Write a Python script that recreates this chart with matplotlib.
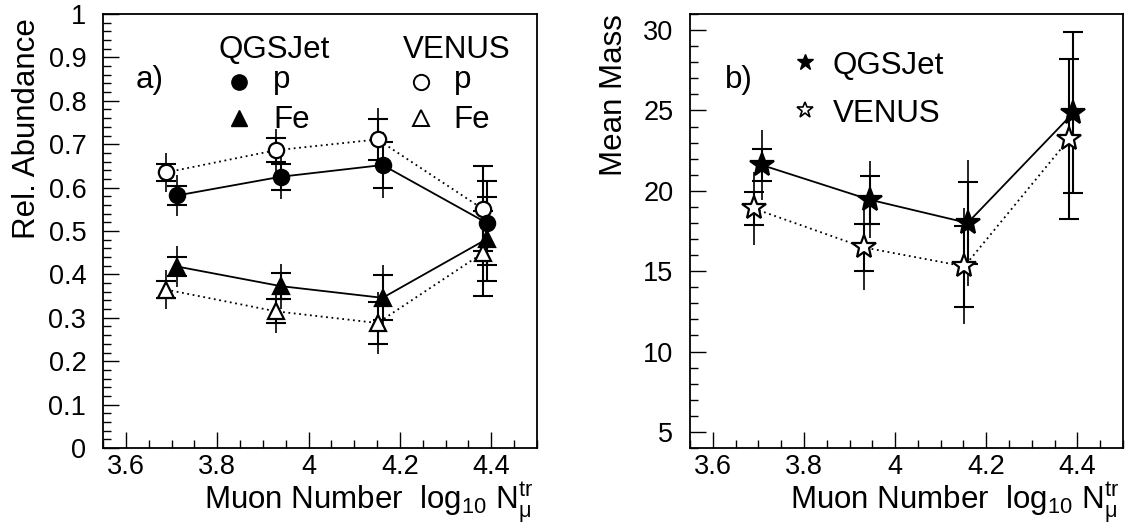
import matplotlib
matplotlib.use("Agg")
import matplotlib.pyplot as plt
from matplotlib.ticker import MultipleLocator, FormatStrFormatter

plt.rcParams["font.family"] = ["Liberation Sans", "DejaVu Sans"]
plt.rcParams["mathtext.fontset"] = "custom"
plt.rcParams["mathtext.rm"] = "Liberation Sans"
plt.rcParams["mathtext.it"] = "Liberation Sans:italic"
plt.rcParams["mathtext.bf"] = "Liberation Sans:bold"

# ------------------------------------------------------------
# a) relative abundance of p and Fe vs muon number
# ------------------------------------------------------------
qgs_x = [3.713, 3.939, 4.162, 4.391]
ven_x = [3.688, 3.928, 4.151, 4.381]

qgs_p = [0.582, 0.625, 0.652, 0.518]
qgs_fe = [0.418, 0.373, 0.346, 0.482]
ven_p = [0.635, 0.686, 0.711, 0.551]
ven_fe = [0.365, 0.315, 0.288, 0.449]

qgs_stat = [0.022, 0.030, 0.052, 0.097]
qgs_tot = [0.048, 0.052, 0.076, 0.100]
ven_stat = [0.020, 0.028, 0.048, 0.098]
ven_tot = [0.045, 0.050, 0.072, 0.100]

# ------------------------------------------------------------
# b) mean mass vs muon number
# ------------------------------------------------------------
qgs_mx = [3.708, 3.944, 4.159, 4.391]
ven_mx = [3.690, 3.931, 4.152, 4.381]

qgs_mass = [21.6, 19.45, 18.0, 24.85]
ven_mass = [18.9, 16.48, 15.3, 23.2]

qgs_mstat = [1.0, 1.5, 2.55, 5.0]
qgs_mtot = [2.2, 2.4, 3.9, 5.0]
ven_mstat = [1.0, 1.47, 2.5, 4.98]
ven_mtot = [2.3, 2.65, 3.6, 4.98]

xlabel = r"Muon Number  log$_{10}$ N$_{\mathrm{\mu}}^{\mathrm{tr}}$"

TICK_FS = 19.5
LABEL_FS = 22.5


def style_axes(ax):
    ax.set_xlim(3.55, 4.5)
    ax.xaxis.set_major_locator(MultipleLocator(0.2))
    ax.xaxis.set_minor_locator(MultipleLocator(0.05))
    ax.xaxis.set_major_formatter(FormatStrFormatter("%g"))
    ax.yaxis.set_major_formatter(FormatStrFormatter("%g"))
    ax.tick_params(which="both", direction="in", top=False, right=False,
                   width=1.0, labelsize=TICK_FS)
    ax.tick_params(which="major", length=11.5)
    ax.tick_params(which="minor", length=5.8)
    ax.tick_params(axis="x", pad=4)
    ax.tick_params(axis="y", pad=12)
    for s in ax.spines.values():
        s.set_linewidth(1.3)
    ax.set_xlabel(xlabel, fontsize=LABEL_FS, loc="right")
    ax.xaxis.set_label_coords(0.99, -0.075)


def draw_points(ax, x, y, stat, tot, marker, filled, ls, ms):
    ax.errorbar(x, y, yerr=tot, fmt="none", ecolor="k", elinewidth=1.2,
                capsize=0, zorder=2)
    ax.errorbar(x, y, yerr=stat, fmt="none", ecolor="k", elinewidth=1.5,
                capsize=7, capthick=1.5, zorder=2)
    ax.plot(x, y, color="k", ls=ls, lw=1.3, zorder=3)
    ax.plot(x, y, ls="none", marker=marker, ms=ms, mec="k", mew=1.6,
            mfc="k" if filled else "white", zorder=4)


fig = plt.figure(figsize=(11.25, 5.29), dpi=100)
W, H = 1125.0, 529.0
ax1 = fig.add_axes([103 / W, 1 - 448 / H, (537 - 103) / W, (448 - 14) / H])
ax2 = fig.add_axes([690 / W, 1 - 448 / H, (1123 - 690) / W, (448 - 14) / H])

dotted = (0, (1, 2))

# panel a
style_axes(ax1)
ax1.set_ylim(0, 1)
ax1.yaxis.set_major_locator(MultipleLocator(0.1))
ax1.yaxis.set_minor_locator(MultipleLocator(0.02))

draw_points(ax1, ven_x, ven_p, ven_stat, ven_tot, "o", False, dotted, 11)
draw_points(ax1, ven_x, ven_fe, ven_stat, ven_tot, "^", False, dotted, 12)
draw_points(ax1, qgs_x, qgs_p, qgs_stat, qgs_tot, "o", True, "-", 11)
draw_points(ax1, qgs_x, qgs_fe, qgs_stat, qgs_tot, "^", True, "-", 12)

ax1.set_ylabel("Rel. Abundance", fontsize=LABEL_FS, loc="top")
ax1.yaxis.set_label_coords(-0.14, 0.99)

ax1.text(3.803, 0.898, "QGSJet", fontsize=LABEL_FS, va="baseline")
ax1.text(4.206, 0.898, "VENUS", fontsize=LABEL_FS, va="baseline")
ax1.text(3.622, 0.829, "a)", fontsize=LABEL_FS, va="baseline")
ax1.plot([3.847], [0.844], "o", ms=11, mfc="k", mec="k")
ax1.plot([3.847], [0.760], "^", ms=12, mfc="k", mec="k")
ax1.plot([4.2455], [0.844], "o", ms=11, mfc="white", mec="k", mew=1.4)
ax1.plot([4.2455], [0.760], "^", ms=12, mfc="white", mec="k", mew=1.4)
ax1.text(3.922, 0.829, "p", fontsize=LABEL_FS, va="baseline")
ax1.text(3.922, 0.737, "Fe", fontsize=LABEL_FS, va="baseline")
ax1.text(4.318, 0.829, "p", fontsize=LABEL_FS, va="baseline")
ax1.text(4.318, 0.737, "Fe", fontsize=LABEL_FS, va="baseline")

# panel b
style_axes(ax2)
ax2.set_ylim(4, 31)
ax2.yaxis.set_major_locator(MultipleLocator(5))
ax2.yaxis.set_minor_locator(MultipleLocator(1))

draw_points(ax2, ven_mx, ven_mass, ven_mstat, ven_mtot, "*", False, dotted, 18)
draw_points(ax2, qgs_mx, qgs_mass, qgs_mstat, qgs_mtot, "*", True, "-", 18)

ax2.set_ylabel("Mean Mass", fontsize=LABEL_FS, loc="top")
ax2.yaxis.set_label_coords(-0.14, 1.0)

ax2.text(3.626, 26.37, "b)", fontsize=LABEL_FS, va="baseline")
ax2.plot([3.8015], [28.03], "*", ms=12, mfc="k", mec="k")
ax2.plot([3.8015], [25.02], "*", ms=12, mfc="white", mec="k", mew=1.2)
ax2.text(3.8635, 27.26, "QGSJet", fontsize=LABEL_FS, va="baseline")
ax2.text(3.8635, 24.29, "VENUS", fontsize=LABEL_FS, va="baseline")

fig.savefig("out.png", dpi=100)
